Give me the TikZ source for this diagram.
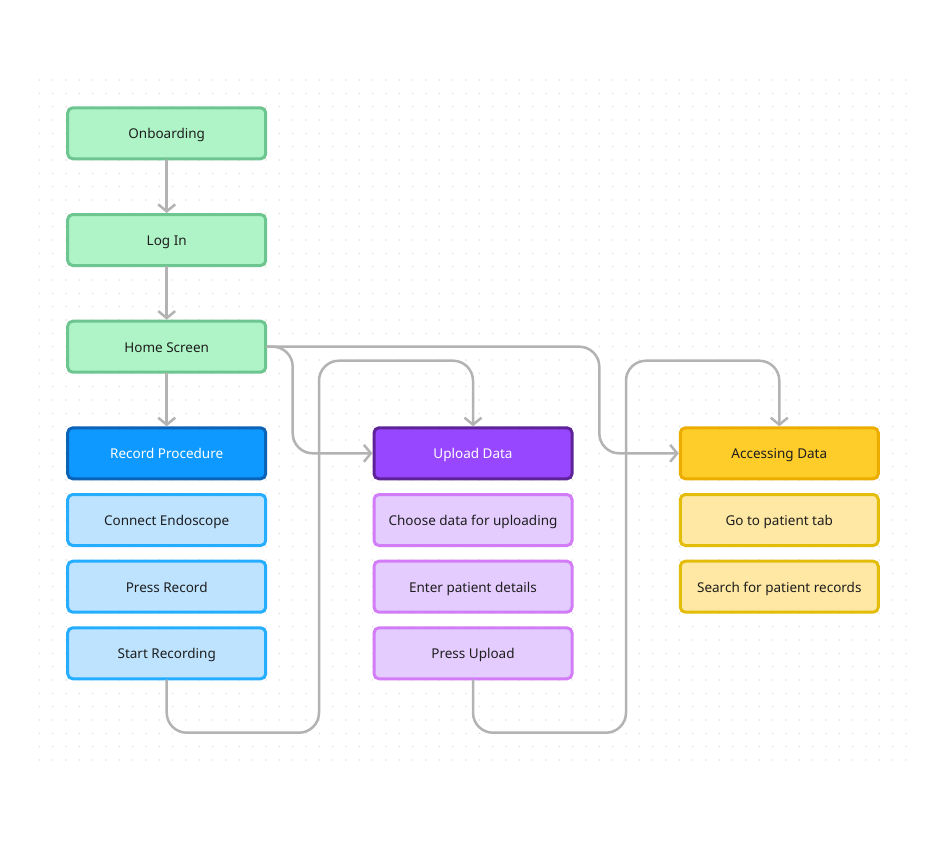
\documentclass[tikz,border=0pt]{standalone}
\usepackage{fontspec}
\setmainfont{Noto Sans}
\usetikzlibrary{arrows.meta}
\definecolor{txt}{HTML}{1E1E1E}
\definecolor{gfill}{HTML}{AFF4C6}\definecolor{gline}{HTML}{6DC590}
\definecolor{bdfill}{HTML}{0D99FF}\definecolor{bdline}{HTML}{0B63B8}
\definecolor{blfill}{HTML}{BDE3FF}\definecolor{blline}{HTML}{25AEFF}
\definecolor{pdfill}{HTML}{9747FF}\definecolor{pdline}{HTML}{5E2398}
\definecolor{plfill}{HTML}{E4CCFF}\definecolor{plline}{HTML}{D27CF7}
\definecolor{ydfill}{HTML}{FFCD29}\definecolor{ydline}{HTML}{EDAD00}
\definecolor{ylfill}{HTML}{FFE8A3}\definecolor{ylline}{HTML}{E3BD0A}
\definecolor{conncol}{HTML}{B3B3B3}
\definecolor{dotcol}{HTML}{E0E0E0}
\tikzset{
  box/.style={rectangle, rounded corners=5pt, line width=3pt, minimum width=198pt, minimum height=51pt,
    font=\fontsize{13.5}{16}\selectfont, text=txt, inner sep=0pt, text height=11pt, text depth=0pt},
  greenbox/.style={box, fill=gfill, draw=gline},
  bluedark/.style={box, fill=bdfill, draw=bdline, text=white},
  bluelight/.style={box, fill=blfill, draw=blline},
  purpledark/.style={box, fill=pdfill, draw=pdline, text=white},
  purplelight/.style={box, fill=plfill, draw=plline},
  yellowdark/.style={box, fill=ydfill, draw=ydline},
  yellowlight/.style={box, fill=ylfill, draw=ylline},
  conn/.style={draw=conncol, line width=2.5pt, rounded corners=20pt, line cap=round,
    -{Straight Barb[length=7pt,width=17pt,line width=2.5pt]}}
}
\begin{document}
\begin{tikzpicture}[x=1pt,y=-1pt]
\useasboundingbox[fill=white] (0,0) rectangle (940,844);
% dotted grid
\foreach \i in {0,...,65}{
  \foreach \j in {0,...,51}{
    \fill[dotcol] ({39.3+13.333*\i},{80+13.333*\j}) circle (0.8);
  }
}
% nodes
\node[greenbox] (onb) at (166.7,133.3) {Onboarding};
\node[greenbox] (login) at (166.7,240) {Log In};
\node[greenbox] (home) at (166.7,346.7) {Home Screen};
\node[bluedark] (recp) at (166.7,453.3) {Record Procedure};
\node[bluelight] (conn1) at (166.7,520) {Connect Endoscope};
\node[bluelight] (press) at (166.7,586.7) {Press Record};
\node[bluelight] (start) at (166.7,653.3) {Start Recording};
\node[purpledark] (upl) at (473,453.3) {Upload Data};
\node[purplelight] (choose) at (473,520) {Choose data for uploading};
\node[purplelight] (enter) at (473,586.7) {Enter patient details};
\node[purplelight] (pressu) at (473,653.3) {Press Upload};
\node[yellowdark] (acc) at (779.3,453.3) {Accessing Data};
\node[yellowlight] (goto) at (779.3,520) {Go to patient tab};
\node[yellowlight] (search) at (779.3,586.7) {Search for patient records};
% connectors
\draw[conn] (onb.south) -- (login.north);
\draw[conn] (login.south) -- (home.north);
\draw[conn] (home.south) -- (recp.north);
\draw[conn] (home.east) -- (292.7,346.7) -- (292.7,453.3) -- (upl.west);
\draw[conn] (home.east) -- (599.3,346.7) -- (599.3,453.3) -- (acc.west);
\draw[conn] (start.south) -- (166.7,732.7) -- (319,732.7) -- (319,360.7) -- (473,360.7) -- (upl.north);
\draw[conn] (pressu.south) -- (473,732.7) -- (626,732.7) -- (626,360.7) -- (779.3,360.7) -- (acc.north);
\end{tikzpicture}
\end{document}
